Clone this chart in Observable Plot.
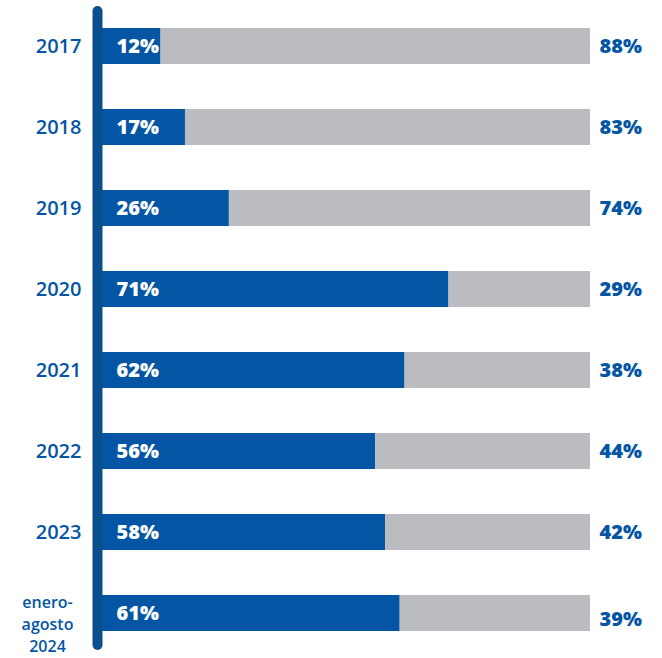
<!DOCTYPE html>
<html>
<head>
<meta charset="utf-8">
<script src="https://cdn.jsdelivr.net/npm/d3@7"></script>
<script src="https://cdn.jsdelivr.net/npm/@observablehq/plot@0.6"></script>
<style>
  html, body { margin: 0; padding: 0; background: #fff; }
  svg { display: block; }
</style>
</head>
<body>
<div id="chart"></div>
<script>
const years = ["2017", "2018", "2019", "2020", "2021", "2022", "2023", "enero-\nagosto\n2024"];
const blueValues = [12, 17, 26, 71, 62, 56, 58, 61];
const grayValues = [88, 83, 74, 29, 38, 44, 42, 39];

const rows = years.map((y, i) => ({year: y, blue: blueValues[i], gray: grayValues[i], total: blueValues[i] + grayValues[i]}));
const singleRows = rows.slice(0, 7);
const lastRows = rows.slice(7);

const blue = "#0456a5";
const axisBlue = "#0b4e8e";
const gray = "#bbbcc0";
const font = "'Open Sans', sans-serif";

const chart = Plot.plot({
  width: 662,
  height: 658,
  marginLeft: 102,
  marginRight: 72,
  marginTop: 10,
  marginBottom: 9,
  style: {fontFamily: font, background: "#fff"},
  x: {domain: [0, 100], axis: null},
  y: {domain: years, paddingInner: 0.555, paddingOuter: 0.22, axis: null},
  marks: [
    Plot.barX(rows, {y: "year", x1: 0, x2: "blue", fill: blue}),
    Plot.barX(rows, {y: "year", x1: "blue", x2: "total", fill: gray}),
    Plot.ruleX([0], {stroke: axisBlue, strokeWidth: 10, strokeLinecap: "round", dx: -5, insetTop: 1, insetBottom: 4}),
    Plot.text(rows, {y: "year", x: 0, text: d => d.blue + "%", textAnchor: "start", dx: 14, fill: "white", fontWeight: 800, fontSize: 20}),
    Plot.text(singleRows, {y: "year", x: "total", text: d => d.gray + "%", textAnchor: "start", dx: 9, fill: blue, fontWeight: 800, fontSize: 20}),
    Plot.text(lastRows, {y: "year", x: "total", text: d => d.gray + "%", textAnchor: "start", dx: 9, dy: 6, fill: blue, fontWeight: 800, fontSize: 20}),
    Plot.text(singleRows, {y: "year", frameAnchor: "left", text: "year", textAnchor: "end", dx: -21, fill: blue, fontSize: 20, fontWeight: 600}),
    Plot.text(lastRows, {y: "year", frameAnchor: "left", text: "year", textAnchor: "middle", dx: -55, dy: 9, lineHeight: 1.38, fill: blue, fontSize: 16, fontWeight: 600})
  ]
});
document.getElementById("chart").appendChild(chart);
</script>
</body>
</html>
